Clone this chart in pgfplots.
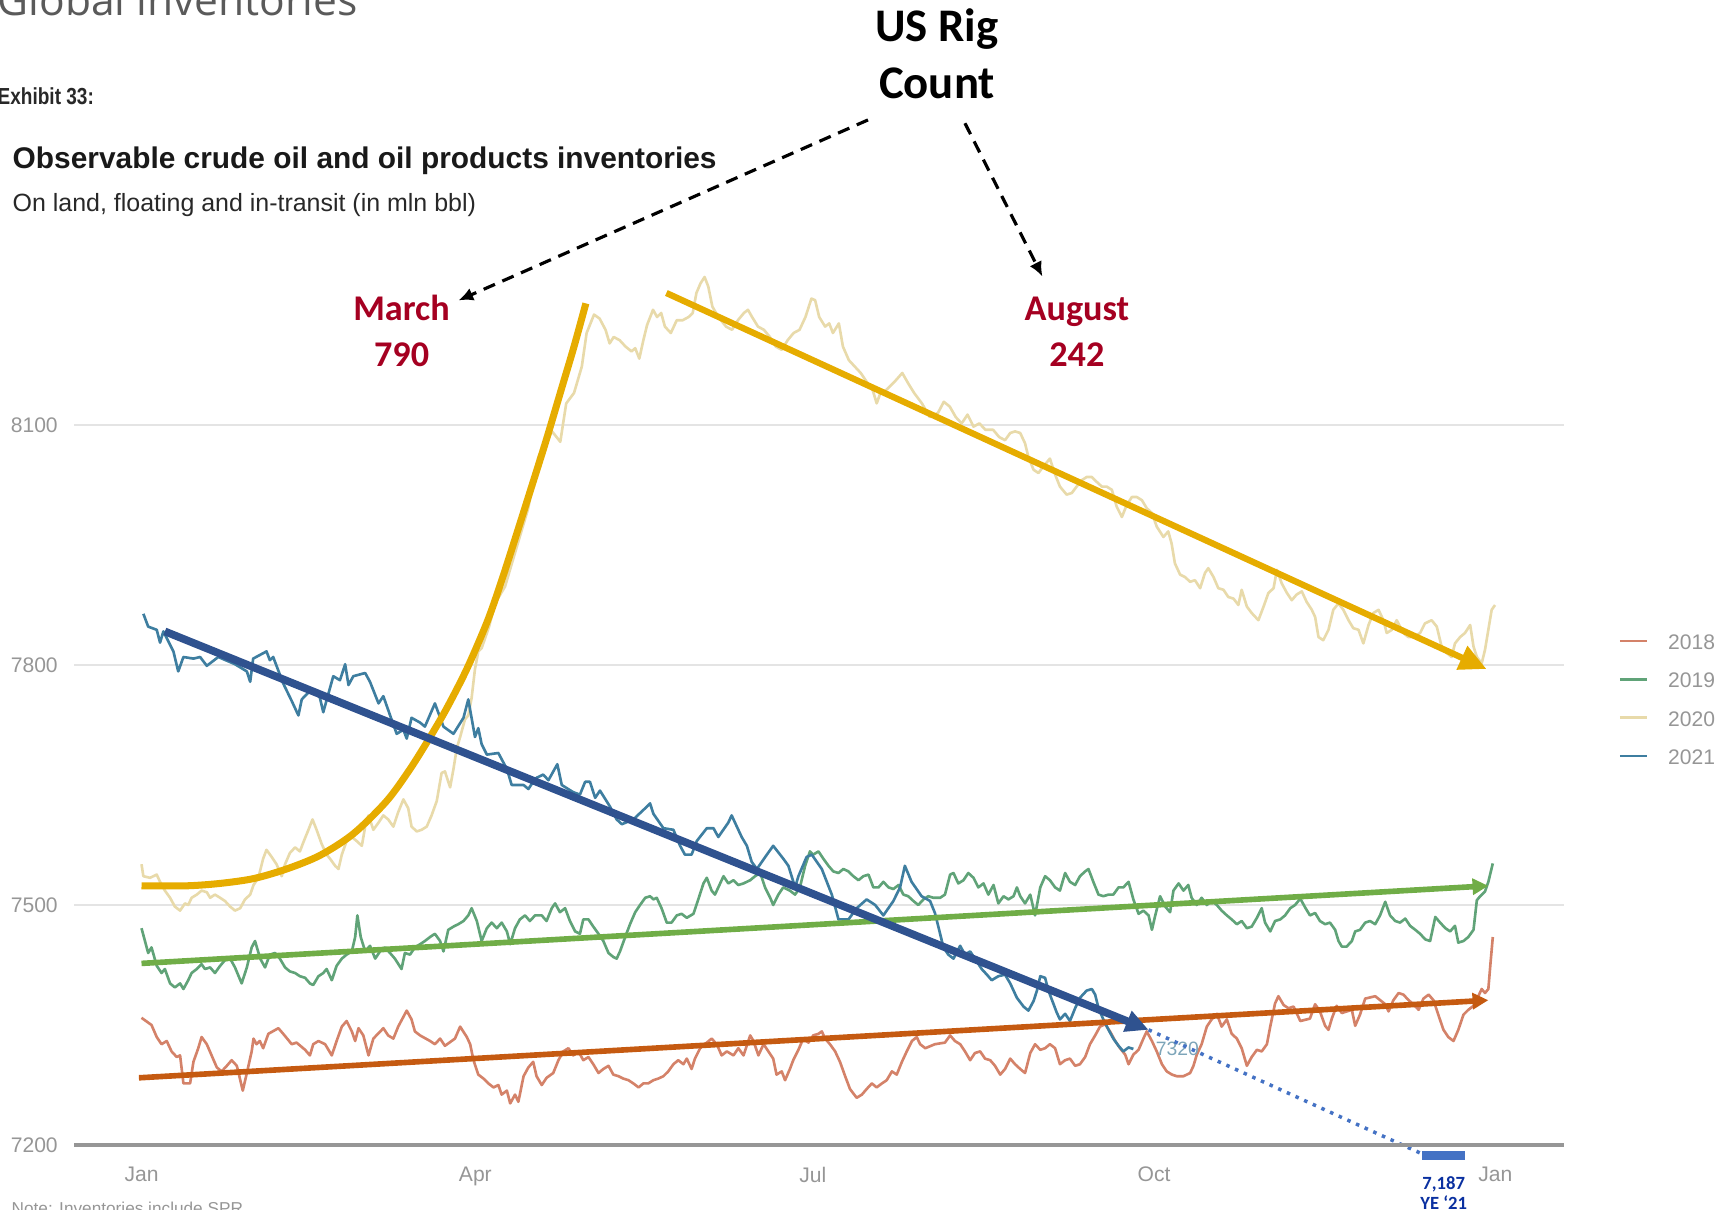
\documentclass[border=0pt]{standalone}
\usepackage{pgfplots}
\pgfplotsset{compat=1.18}
\usepackage{fontspec}
\setmainfont{Liberation Sans}
\newfontfamily\carlito{Carlito}
\newfontfamily\opensans{Open Sans}
\usetikzlibrary{arrows.meta}

% series colours
\definecolor{cA}{RGB}{212,130,105}  % 2018
\definecolor{cB}{RGB}{96,163,120}   % 2019
\definecolor{cC}{RGB}{232,218,170}  % 2020
\definecolor{cD}{RGB}{62,126,160}   % 2021
% trend / annotation colours
\definecolor{gold}{RGB}{230,172,0}
\definecolor{navy}{RGB}{47,82,143}
\definecolor{lgreen}{RGB}{112,173,71}
\definecolor{rust}{RGB}{197,90,17}
\definecolor{dotblue}{RGB}{68,114,196}
\definecolor{wine}{RGB}{165,0,33}
\definecolor{inkblue}{RGB}{10,48,160}
\definecolor{labelgray}{RGB}{150,150,150}
\definecolor{gridgray}{RGB}{228,228,228}
\definecolor{basegray}{RGB}{150,150,150}
\definecolor{endlabel}{RGB}{125,165,185}

\begin{document}
\begin{tikzpicture}
\begin{axis}[
  at={(0.74cm,0.64cm)}, anchor=south west,
  width=14.9cm, height=9.2cm, scale only axis,
  xmin=-18.2, xmax=383.5, ymin=7200, ymax=8350,
  clip=false,
  axis line style={draw=none},
  major tick length=0pt,
  xtick={0,90,181,273,365},
  xticklabels={Jan,Apr,Jul,Oct,Jan},
  ytick={7200,7500,7800,8100},
  yticklabels={7200,7500,7800,8100},
  ymajorgrids,
  grid style={color=gridgray, line width=0.6pt},
  tick label style={font=\fontsize{6}{7}\selectfont, text=labelgray},
  yticklabel style={xshift=-1.1pt},
  xticklabel style={yshift=-2.75pt},
  legend cell align=left,
  legend style={at={(1.0365,0.5549)}, anchor=north west, draw=none, fill=none,
    inner sep=0pt, outer sep=0pt, row sep=6.6pt, column sep=0pt,
    font=\fontsize{6}{7}\selectfont,
    nodes={inner sep=0pt, text=labelgray, text height=4.3pt, text depth=0pt}},
  legend image code/.code={
    \draw[#1, line width=0.8pt] (0pt,0.3pt) -- (7.8pt,0.3pt);
    \path (13.4pt,0pt);
  },
  every axis plot/.append style={line join=round},
]

% 2018
\addplot[cA, line width=0.75pt] coordinates {
(0,7359) (2.7,7350) (4.1,7335) (5.4,7326) (6.8,7330) (8.1,7317) (9.5,7310) (10.4,7312)
(11.3,7277) (13.1,7277) (14.0,7304) (15.3,7321) (16.2,7335) (17.6,7326) (18.9,7312)
(20.3,7297) (21.6,7292) (23.0,7299) (24.3,7306) (25.7,7299) (27.3,7268) (28.4,7290)
(29.7,7317) (30.2,7333) (31.0,7326) (31.9,7330) (32.8,7321) (34.2,7339) (36.9,7346)
(38.2,7339) (40.5,7326) (41.8,7328) (44.1,7319) (45.4,7312) (46.3,7326) (47.7,7330)
(49.5,7326) (51.3,7312) (52.6,7330) (54.0,7348) (55.3,7355) (56.7,7342) (57.6,7330)
(58.5,7346) (59.8,7337) (61.2,7312) (62.5,7333) (65.2,7346) (66.5,7337) (67.9,7333)
(69.2,7348) (71.5,7368) (72.8,7357) (73.7,7342) (75.1,7337) (77.8,7330) (79.1,7326)
(80.5,7333) (81.8,7324) (84.5,7333) (85.9,7348) (87.7,7335) (88.6,7326) (89.5,7306)
(90.8,7288) (92.2,7283) (93.5,7277) (94.9,7272) (96.2,7275) (97.1,7263) (98.5,7268)
(99.4,7252) (100.7,7263) (101.6,7254) (103.0,7286) (104.3,7297) (105.6,7304)
(106.5,7286) (107.9,7275) (109.2,7284) (111.0,7290) (112.4,7306) (113.7,7317)
(115.1,7321) (116.4,7312) (117.8,7317) (119.1,7306) (120.5,7310) (121.8,7301)
(123.2,7290) (124.5,7295) (125.9,7299) (127.2,7288) (128.6,7286) (129.9,7283)
(131.3,7281) (132.6,7277) (134.0,7272) (135.3,7277) (136.6,7277) (138.0,7281)
(139.3,7283) (140.7,7286) (142.0,7292) (143.4,7301) (144.7,7306) (146.1,7301)
(147.0,7308) (148.3,7295) (149.2,7308) (150.6,7321) (152.4,7328) (153.7,7333)
(155.1,7326) (156.4,7312) (157.8,7317) (159.6,7312) (160.9,7321) (162.3,7312)
(164.1,7337) (165.0,7330) (166.3,7312) (167.7,7326) (169.0,7317) (170.3,7308)
(171.2,7288) (172.6,7292) (173.5,7281) (174.8,7295) (175.7,7306) (177.1,7319)
(178.4,7333) (179.8,7328) (181.1,7337) (182.5,7339) (183.4,7342) (184.3,7333)
(185.6,7326) (187.0,7317) (188.3,7304) (189.7,7286) (191.0,7270) (192.8,7259)
(194.2,7263) (195.5,7270) (196.9,7277) (198.2,7272) (199.6,7277) (200.9,7281)
(202.3,7292) (203.6,7288) (205.0,7304) (206.3,7317) (207.7,7330) (209.0,7335)
(209.9,7326) (211.3,7321) (213.9,7326) (216.6,7328) (218.0,7337) (219.3,7330)
(220.7,7326) (222.0,7317) (223.4,7306) (224.7,7315) (226.1,7317) (227.4,7308)
(228.8,7306) (230.1,7299) (231.5,7288) (232.8,7295) (234.2,7308) (235.5,7301)
(236.9,7295) (238.2,7290) (239.6,7315) (240.9,7326) (242.3,7319) (243.6,7321)
(244.9,7326) (246.3,7321) (247.6,7301) (249.0,7306) (250.3,7308) (251.7,7299)
(253.0,7301) (254.4,7310) (255.7,7326) (257.1,7337) (258.4,7348) (259.8,7351)
(261.1,7342) (262.5,7330) (263.8,7321) (265.2,7313) (266.1,7301) (267.4,7313)
(268.8,7319) (270.1,7333) (271.0,7342) (272.4,7330) (273.7,7317) (275.1,7301)
(276.4,7292) (277.8,7288) (279.1,7286) (280.9,7286) (282.7,7290) (283.6,7299)
(284.5,7313) (285.8,7326) (287.2,7348) (288.5,7357) (289.9,7364) (291.2,7348)
(292.6,7357) (293.9,7339) (295.3,7333) (296.6,7321) (298.0,7299) (299.3,7310)
(300.7,7319) (302.0,7317) (303.4,7326) (304.3,7348) (305.6,7377) (306.5,7386)
(307.9,7375) (309.2,7371) (310.6,7373) (312.4,7355) (315.0,7358) (316.4,7376)
(317.7,7367) (319.1,7349) (320.0,7344) (320.9,7358) (322.2,7374) (323.6,7365)
(326.3,7369) (327.2,7349) (328.5,7363) (329.9,7383) (332.6,7386) (335.3,7376)
(336.2,7367) (337.5,7381) (338.9,7390) (340.2,7388) (341.6,7381) (342.9,7376)
(344.3,7369) (345.6,7383) (347.0,7388) (348.3,7381) (349.6,7363) (351.0,7344)
(352.3,7335) (353.7,7330) (355.0,7344) (356.4,7363) (357.7,7369) (359.1,7374)
(360.4,7386) (361.3,7395) (362.2,7390) (363.1,7395) (363.6,7423) (364.3,7460)
};
\addlegendentry{2018}

% 2019
\addplot[cB, line width=0.75pt] coordinates {
(0,7471) (1.8,7440) (2.7,7447) (4.1,7424) (5.4,7415) (6.3,7420) (7.7,7402) (9.0,7397)
(10.4,7402) (11.3,7395) (12.6,7406) (13.5,7415) (14.9,7420) (16.2,7426) (17.1,7420)
(18.5,7422) (19.8,7415) (21.2,7424) (22.5,7431) (23.9,7433) (25.2,7422) (27.0,7402)
(28.4,7422) (29.7,7447) (30.6,7455) (32.0,7433) (33.3,7422) (34.6,7438) (36.0,7440)
(37.3,7433) (38.7,7422) (40.0,7417) (41.4,7415) (42.7,7411) (44.1,7409) (45.4,7402)
(46.3,7400) (47.7,7411) (49.0,7415) (49.9,7420) (51.3,7406) (52.6,7424) (54.0,7433)
(55.3,7438) (56.7,7442) (57.6,7460) (58.2,7487) (59.1,7460) (60.3,7442) (61.6,7449)
(63.0,7433) (64.3,7442) (65.6,7447) (67.0,7440) (68.3,7433) (70.1,7420) (71.0,7440)
(72.4,7438) (73.7,7447) (75.1,7451) (76.4,7455) (77.8,7460) (79.1,7464) (80.5,7455)
(81.4,7442) (82.7,7469) (84.1,7473) (85.4,7476) (86.8,7480) (88.1,7487) (89.0,7496)
(90.4,7480) (91.7,7455) (93.1,7471) (94.4,7478) (95.8,7471) (97.1,7478) (98.5,7467)
(99.4,7451) (100.7,7471) (102.0,7482) (103.4,7487) (104.7,7480) (106.1,7487)
(107.9,7487) (109.2,7480) (110.6,7496) (111.5,7502) (112.8,7491) (114.2,7496)
(115.5,7480) (116.9,7467) (118.2,7464) (119.1,7482) (120.5,7482) (121.8,7473)
(123.2,7464) (124.5,7455) (125.9,7440) (127.2,7435) (128.1,7433) (129.0,7442)
(130.4,7460) (131.7,7476) (133.1,7491) (134.4,7500) (135.8,7509) (137.1,7511)
(138.0,7507) (138.9,7509) (140.2,7496) (141.6,7478) (142.9,7478) (144.3,7487)
(145.6,7489) (147.0,7484) (148.8,7489) (150.1,7507) (151.5,7527) (152.4,7534)
(153.7,7518) (154.6,7513) (156.0,7527) (156.9,7536) (158.2,7527) (159.6,7531)
(160.9,7525) (162.3,7527) (164.1,7531) (165.4,7536) (166.8,7540) (168.1,7522)
(169.5,7509) (170.3,7500) (171.7,7513) (173.0,7522) (174.8,7518) (176.2,7513)
(177.5,7522) (178.9,7549) (180.2,7567) (181.1,7563) (182.5,7567) (183.8,7558)
(185.2,7549) (186.5,7542) (187.9,7540) (189.2,7545) (190.6,7542) (191.9,7536)
(193.3,7531) (194.6,7536) (196.0,7538) (197.3,7522) (198.7,7522) (200.0,7529)
(201.4,7522) (202.7,7520) (204.1,7525) (205.4,7513) (206.7,7511) (208.1,7505)
(209.4,7500) (210.8,7507) (212.1,7511) (213.5,7509) (215.3,7509) (216.6,7513)
(218.0,7538) (218.9,7540) (220.2,7527) (221.6,7531) (222.9,7540) (224.3,7534)
(225.6,7522) (227.0,7527) (228.3,7513) (229.7,7525) (231.0,7502) (232.4,7511)
(233.7,7507) (235.1,7511) (236.0,7522) (236.9,7511) (238.2,7502) (239.6,7513)
(240.9,7487) (242.3,7522) (243.6,7536) (244.9,7531) (246.3,7522) (247.6,7518)
(249.0,7540) (250.3,7529) (251.7,7525) (253.0,7536) (254.4,7542) (255.3,7545)
(256.6,7529) (258.0,7513) (259.3,7511) (260.7,7513) (262.0,7513) (263.4,7522)
(264.7,7522) (266.1,7529) (267.4,7507) (268.8,7489) (270.1,7493) (271.5,7487)
(272.4,7469) (273.3,7487) (274.6,7511) (276.0,7498) (277.3,7491) (278.2,7518)
(279.6,7527) (280.9,7518) (282.2,7525) (283.1,7509) (284.5,7500) (285.8,7509)
(287.2,7500) (288.5,7505) (289.9,7500) (291.2,7493) (292.6,7487) (293.9,7482)
(295.3,7476) (296.6,7480) (298.0,7471) (299.3,7473) (300.7,7484) (302.0,7496)
(302.9,7478) (304.3,7467) (305.6,7480) (307.0,7482) (308.3,7487) (309.7,7496)
(311.0,7500) (312.4,7508) (313.7,7497) (315.0,7487) (316.4,7490) (317.7,7480)
(319.1,7476) (320.4,7478) (321.8,7469) (322.7,7455) (323.6,7448) (324.9,7448)
(326.3,7455) (327.2,7467) (328.5,7469) (329.9,7478) (331.2,7480) (332.6,7476)
(333.9,7487) (335.3,7504) (336.6,7487) (338.0,7480) (339.3,7478) (340.7,7483)
(342.0,7474) (343.4,7469) (344.7,7464) (346.1,7457) (347.4,7455) (348.8,7485)
(350.1,7478) (351.5,7471) (352.8,7467) (354.1,7474) (355.0,7453) (356.4,7455)
(357.7,7460) (359.1,7469) (360.0,7506) (360.9,7511) (362.2,7517) (363.1,7529)
(364.3,7552)
};
\addlegendentry{2019}

% 2020
\addplot[cC, line width=0.75pt] coordinates {
(0,7551) (0.5,7536) (2.3,7534) (4.1,7538) (5.0,7529) (6.3,7518) (7.7,7509) (9.0,7498)
(10.4,7493) (11.7,7502) (12.6,7500) (13.5,7509) (14.9,7513) (16.2,7518) (17.6,7516)
(18.5,7509) (19.8,7513) (21.2,7509) (22.5,7505) (23.9,7498) (25.2,7493) (26.6,7496)
(27.9,7507) (29.3,7513) (30.2,7525) (31.5,7534) (32.8,7558) (33.7,7569) (35.1,7560)
(36.4,7551) (37.8,7536) (38.7,7551) (40.0,7565) (41.4,7572) (42.7,7567) (43.6,7578)
(45.0,7594) (46.1,7607) (47.2,7594) (48.6,7576) (49.9,7563) (50.8,7558) (52.2,7549)
(53.1,7545) (54.0,7563) (55.3,7580) (56.7,7585) (58.0,7580) (59.4,7574) (60.3,7598)
(61.2,7612) (62.5,7594) (63.9,7603) (65.2,7612) (66.5,7607) (67.9,7598) (69.2,7616)
(70.6,7632) (71.9,7621) (72.8,7598) (74.2,7592) (75.5,7594) (76.9,7598) (78.2,7612)
(79.6,7630) (80.9,7665) (81.8,7667) (83.2,7647) (84.1,7670) (85.0,7696) (85.9,7710)
(87.2,7732) (88.1,7737) (89.0,7759) (89.9,7795) (90.8,7817) (91.7,7821) (93.7,7848)
(95.3,7877) (98.0,7898) (101.7,7956) (104.2,7995) (107.0,8060) (110.7,8092)
(112.9,8079) (114.5,8127) (116.6,8140) (118.7,8173) (120.0,8215) (122.0,8238)
(123.5,8233) (125.1,8219) (126.2,8202) (127.3,8210) (128.9,8206) (130.5,8198)
(132.1,8192) (133.1,8196) (134.2,8183) (135.3,8206) (136.3,8225) (137.9,8244)
(139.0,8235) (140.1,8240) (141.1,8223) (142.7,8215) (144.3,8231) (145.9,8231)
(147.5,8235) (148.6,8240) (149.6,8265) (150.7,8277) (151.8,8285) (152.8,8273)
(153.9,8248) (155.5,8235) (157.6,8223) (159.2,8219) (160.8,8231) (162.4,8240)
(163.5,8244) (164.6,8235) (166.2,8223) (167.8,8219) (169.4,8210) (171.0,8198)
(172.6,8194) (174.2,8206) (175.8,8215) (177.4,8219) (179.0,8235) (180.6,8258)
(181.6,8256) (182.7,8235) (184.3,8223) (185.4,8227) (186.4,8215) (188.0,8227)
(189.1,8198) (190.7,8181) (192.3,8173) (193.9,8165) (195.5,8154) (197.1,8144)
(198.2,8127) (199.2,8140) (200.8,8144) (203.0,8154) (205.1,8165) (206.7,8152)
(208.3,8140) (210.4,8127) (212.5,8110) (214.7,8115) (216.3,8129) (217.9,8123)
(219.5,8110) (221.1,8102) (222.7,8113) (224.3,8098) (225.9,8102) (227.5,8094)
(229.6,8094) (231.2,8085) (232.8,8081) (234.2,8090) (235.5,8092) (236.9,8090)
(238.2,8077) (239.1,8060) (240.5,8044) (241.8,8040) (243.1,8048) (244.9,8058)
(246.3,8038) (247.6,8023) (249.4,8013) (250.8,8015) (252.1,8023) (253.5,8031)
(254.8,8035) (256.2,8035) (257.5,8029) (258.9,8023) (260.2,8023) (261.6,8019)
(262.9,7998) (264.3,7985) (265.6,8000) (267.0,8010) (268.3,8010) (269.7,8006)
(271.0,7996) (272.4,7990) (273.7,7973) (275.5,7960) (276.8,7967) (277.7,7952)
(278.6,7927) (280.0,7913) (281.3,7910) (282.7,7904) (284.0,7906) (285.4,7896)
(286.7,7915) (287.6,7921) (289.0,7910) (290.3,7896) (291.7,7894) (293.0,7885)
(294.4,7883) (295.7,7875) (296.6,7894) (298.0,7873) (299.3,7865) (301.1,7856)
(302.5,7873) (303.8,7890) (305.2,7896) (306.1,7919) (307.4,7902) (308.8,7890)
(310.1,7881) (311.4,7888) (312.8,7892) (314.1,7879) (315.5,7869) (316.4,7860)
(317.3,7835) (318.6,7831) (320.0,7844) (321.3,7869) (322.7,7877) (324.0,7869)
(325.4,7856) (326.7,7846) (328.1,7844) (329.4,7827) (330.8,7850) (332.1,7865)
(333.5,7869) (334.8,7856) (335.7,7840) (337.1,7844) (338.4,7856) (340.2,7840)
(341.5,7835) (342.9,7835) (344.7,7840) (346.0,7852) (347.8,7856) (349.2,7848)
(350.5,7823) (351.9,7815) (353.2,7810) (354.1,7827) (355.5,7835) (356.8,7840)
(358.2,7850) (359.1,7823) (360.0,7810) (361.3,7802) (362.2,7819) (363.1,7844)
(364.0,7869) (364.9,7875)
};
\addlegendentry{2020}

% 2021 (year to date)
\addplot[cD, line width=0.75pt] coordinates {
(0.5,7864) (1.8,7848) (4.1,7844) (5.0,7828) (5.9,7842) (8.6,7817) (9.9,7792) (11.3,7810)
(14.0,7808) (15.8,7810) (17.6,7799) (20.7,7810) (25.2,7801) (28.4,7792) (29.3,7779)
(30.1,7808) (33.7,7817) (34.6,7806) (35.5,7810) (38.2,7777) (40.5,7755) (42.3,7737)
(43.2,7757) (45.9,7770) (48.1,7759) (49.0,7741) (51.7,7786) (53.5,7781) (54.9,7801)
(55.8,7775) (57.1,7786) (60.3,7790) (61.6,7779) (63.9,7752) (65.2,7761) (67.4,7732)
(68.8,7714) (70.6,7719) (71.5,7708) (72.8,7734) (75.1,7728) (76.4,7723) (79.1,7752)
(81.4,7723) (84.1,7714) (86.8,7734) (88.1,7757) (89.9,7710) (90.8,7721) (91.7,7701)
(93.1,7688) (96.2,7690) (98.5,7670) (99.8,7650) (103.0,7650) (104.3,7645) (105.6,7654)
(106.5,7659) (108.3,7663) (109.7,7656) (112.1,7676) (113.3,7650) (116.4,7641)
(118.2,7638) (119.6,7654) (120.9,7654) (122.3,7634) (123.6,7643) (126.3,7623)
(128.1,7607) (129.5,7601) (132.6,7607) (135.8,7621) (137.1,7627) (138.0,7614)
(140.7,7596) (143.4,7594) (145.2,7574) (146.5,7563) (148.3,7563) (149.7,7580)
(152.4,7596) (154.2,7596) (155.5,7585) (158.2,7603) (159.1,7612) (161.8,7585)
(163.2,7574) (164.5,7554) (165.9,7545) (168.6,7563) (170.3,7574) (173.0,7558)
(174.4,7549) (176.2,7522) (177.1,7536) (179.3,7560) (180.7,7563) (183.4,7545)
(186.1,7513) (187.9,7482) (190.6,7482) (192.8,7496) (195.5,7507) (197.8,7500)
(200.0,7487) (202.7,7505) (204.5,7522) (205.8,7549) (207.6,7529) (210.3,7511)
(212.6,7505) (213.9,7490) (215.3,7464) (216.2,7447) (217.5,7438) (218.9,7433)
(220.7,7449) (222.0,7438) (223.4,7442) (224.7,7433) (226.5,7420) (227.9,7413)
(229.2,7406) (231.0,7411) (232.8,7413) (234.2,7402) (236.0,7384) (237.8,7373)
(239.1,7368) (240.5,7380) (241.4,7393) (242.3,7411) (243.6,7409) (244.5,7393)
(245.4,7382) (246.7,7366) (247.6,7357) (249.0,7364) (250.3,7355) (251.7,7371)
(253.0,7384) (254.8,7393) (256.2,7395) (257.1,7388) (258.0,7371) (259.3,7357)
(260.7,7344) (262.0,7333) (263.4,7324) (264.7,7317) (266.1,7322) (267.4,7320)
} node[pos=1, anchor=west, inner sep=0pt, xshift=6pt, text=endlabel,
       font=\fontsize{5.5}{6}\selectfont] {7320};
\addlegendentry{2021}

% hand-drawn trend overlays
\addplot[gold, line width=2pt, smooth, forget plot] coordinates {
(0,7524) (12.2,7524) (21.2,7527) (30.2,7533) (39.1,7545) (48.1,7562) (57.1,7589)
(66.1,7630) (72.4,7670) (77.8,7710) (82.3,7746) (87.7,7795) (93.1,7853) (96.7,7900)
(100.6,7956) (104.9,8019) (109.1,8081) (113.4,8148) (116.6,8198) (119.8,8252)
};
\addplot[gold, line width=1.8pt, forget plot,
  -{Triangle[length=7.7pt,width=7pt]}] coordinates {(141.5,8265) (362.6,7795)};
\addplot[rust, line width=1.6pt, forget plot,
  -{Triangle[length=4.5pt,width=4.5pt]}] coordinates {(-0.7,7284) (363.1,7381)};
\addplot[lgreen, line width=1.6pt, forget plot,
  -{Triangle[length=4.5pt,width=4.5pt]}] coordinates {(0,7427) (363.1,7524)};
\addplot[navy, line width=2.2pt, forget plot,
  -{Triangle[length=6.5pt,width=6pt]}] coordinates {(6.3,7842) (271.5,7344)};
\addplot[dotblue, line width=1pt, dash pattern=on 1pt off 1.7pt, forget plot]
  coordinates {(271.5,7344) (345.2,7189)};
\addplot[dotblue, line width=2.4pt, forget plot] coordinates {(345.2,7187) (356.9,7187)}
  node[pos=0.5, anchor=north, inner sep=0pt, yshift=-4.9pt, align=center,
       text=inkblue, font=\carlito\bfseries\fontsize{5.3}{5.7}\selectfont]
  {7,187\\YE ‘21};

% baseline of the value axis
\draw[basegray, line width=0.9pt] (rel axis cs:0,0) -- (rel axis cs:1,0);
\end{axis}

% page headings and callouts (0.1 mm units, origin at top left)
\begin{scope}[x=0.01cm, y=-0.01cm, shift={(0,12.09cm)}]
  \node[anchor=base west, inner sep=0pt, text={rgb,255:red,90;green,90;blue,90},
        font=\opensans\fontsize{12.1}{14}\selectfont] at (-3,16) {Global inventories};
  \node[anchor=base west, inner sep=0pt, text={rgb,255:red,40;green,40;blue,40},
        font=\bfseries\fontsize{6.6}{7}\selectfont] at (-3,105)
        {\scalebox{0.82}[1]{Exhibit 33:}};
  \node[anchor=base west, inner sep=0pt, text={rgb,255:red,25;green,25;blue,25},
        font=\bfseries\fontsize{8.5}{10}\selectfont] at (12,169)
        {Observable crude oil and oil products inventories};
  \node[anchor=base west, inner sep=0pt, text={rgb,255:red,40;green,40;blue,40},
        font=\fontsize{7.1}{8}\selectfont] at (12,212)
        {On land, floating and in-transit (in mln bbl)};
  \node[anchor=base west, inner sep=0pt, text=labelgray,
        font=\fontsize{4.9}{6}\selectfont] at (11,1215) {Note: Inventories include SPR};

  \node[anchor=base, inner sep=0pt, font=\carlito\bfseries\fontsize{13.3}{15}\selectfont]
        at (937.5,41.7) {US Rig};
  \node[anchor=base, inner sep=0pt, font=\carlito\bfseries\fontsize{13.3}{15}\selectfont]
        at (937.5,98.3) {Count};
  \node[anchor=base, inner sep=0pt, text=wine, font=\carlito\bfseries\fontsize{10.3}{12}\selectfont]
        at (401.8,321) {March};
  \node[anchor=base, inner sep=0pt, text=wine, font=\carlito\bfseries\fontsize{10.3}{12}\selectfont]
        at (401.8,367) {790};
  \node[anchor=base, inner sep=0pt, text=wine, font=\carlito\bfseries\fontsize{10.3}{12}\selectfont]
        at (1077.5,321) {August};
  \node[anchor=base, inner sep=0pt, text=wine, font=\carlito\bfseries\fontsize{10.3}{12}\selectfont]
        at (1077.5,367) {242};

  \draw[black, line width=0.9pt, dash pattern=on 3.5pt off 2.3pt,
        -{Latex[length=4.2pt,width=3.8pt]}] (868.5,120) -- (458.7,300.6);
  \draw[black, line width=0.9pt, dash pattern=on 3.5pt off 2.3pt,
        -{Latex[length=4.2pt,width=3.8pt]}] (965.5,123.3) -- (1043,276.7);
\end{scope}

\pgfresetboundingbox
\path[use as bounding box] (0,0) rectangle (17.33cm,12.09cm);
\end{tikzpicture}
\end{document}
